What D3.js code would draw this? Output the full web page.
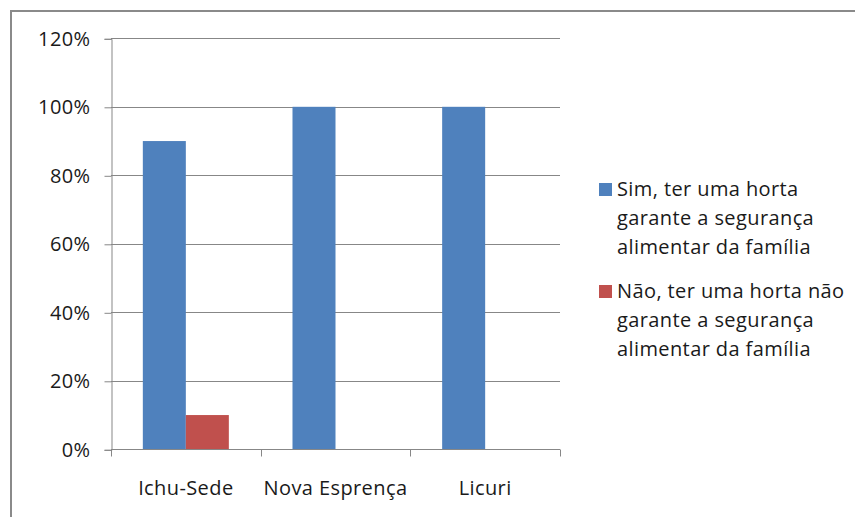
<!DOCTYPE html>
<html>
<head>
<meta charset="utf-8">
<script src="https://cdn.jsdelivr.net/npm/d3@7"></script>
<style>
  html, body { margin: 0; padding: 0; background: #fff; }
  svg { display: block; }
  text { font-family: "Open Sans", Lato, sans-serif; fill: #1a1a1a; letter-spacing: 0.4px; }
</style>
</head>
<body>
<svg id="chart" width="855" height="517"></svg>
<script>
// Localidades e respostas (proporção de famílias)
const categories = ["Ichu-Sede", "Nova Esprença", "Licuri"];
const seriesNames = [
  ["Sim, ter uma horta", "garante a segurança", "alimentar da família"],
  ["Não, ter uma horta não", "garante a segurança", "alimentar da família"]
];
const simValues = [0.90, 1.00, 1.00];
const naoValues = [0.10, 0, 0];
const yTicks = [0, 0.2, 0.4, 0.6, 0.8, 1.0, 1.2];
const colors = ["#4f81bd", "#c0504d"];

const FONT = "Open Sans";
const FS = 20;

const svg = d3.select("#chart");
const plot = { left: 111, right: 560, top: 38.3, bottom: 449.3 };

// moldura do gráfico
svg.append("rect")
  .attr("x", 11).attr("y", 11).attr("width", 900).attr("height", 600)
  .attr("fill", "none").attr("stroke", "#8a8a8a").attr("stroke-width", 2);

const x0 = d3.scaleBand().domain(categories).range([plot.left, plot.right]).padding(0);
const series = [0, 1];
const x1 = d3.scaleBand().domain(series).range([0, x0.bandwidth()])
  .paddingInner(0).paddingOuter(0.74);
const y = d3.scaleLinear().domain([0, 1.2]).range([plot.bottom, plot.top]);

// linhas de grade horizontais
svg.append("g").selectAll("line").data(yTicks.filter(d => d > 0)).join("line")
  .attr("x1", plot.left).attr("x2", plot.right)
  .attr("y1", d => Math.round(y(d)) + 0.5).attr("y2", d => Math.round(y(d)) + 0.5)
  .attr("stroke", "#878787").attr("stroke-width", 1);

// eixo Y
const yAxis = d3.axisLeft(y).tickValues(yTicks).tickSize(7).tickPadding(14)
  .tickFormat(d => Math.round(d * 100) + "%");
const gy = svg.append("g").attr("transform", `translate(${plot.left + 0.5},0.5)`).call(yAxis);
gy.select(".domain").attr("stroke", "#878787");
gy.selectAll(".tick line").attr("stroke", "#878787");
gy.selectAll(".tick text").attr("font-size", FS).attr("font-family", FONT).attr("fill", "#1a1a1a");

// barras
const data = categories.map((c, i) => ({ cat: c, vals: [simValues[i], naoValues[i]] }));
const groups = svg.append("g").selectAll("g").data(data).join("g")
  .attr("transform", d => `translate(${x0(d.cat)},0)`);
groups.selectAll("rect").data(d => d.vals.map((v, s) => ({ v, s }))).join("rect")
  .attr("x", d => x1(d.s)).attr("width", x1.bandwidth())
  .attr("y", d => y(d.v)).attr("height", d => y(0) - y(d.v))
  .attr("fill", d => colors[d.s]);

// eixo X
const gx = svg.append("g").attr("transform", `translate(0,${Math.round(plot.bottom) + 0.5})`);
gx.append("line").attr("x1", plot.left).attr("x2", plot.right)
  .attr("stroke", "#878787");
const bounds = categories.map(c => x0(c)).concat([plot.right]);
gx.selectAll("line.tk").data(bounds).join("line").attr("class", "tk")
  .attr("x1", d => Math.round(d) + 0.5).attr("x2", d => Math.round(d) + 0.5)
  .attr("y1", 0).attr("y2", 7).attr("stroke", "#878787");
gx.selectAll("text").data(categories).join("text")
  .attr("x", d => x0(d) + x0.bandwidth() / 2).attr("y", 45)
  .attr("text-anchor", "middle").attr("font-size", FS)
  .text(d => d);

// legenda
const legend = svg.append("g");
const entryY = [183, 285];
seriesNames.forEach((lines, s) => {
  const g = legend.append("g").attr("transform", `translate(599,${entryY[s]})`);
  g.append("rect").attr("width", 13).attr("height", 13).attr("fill", colors[s]);
  g.selectAll("text").data(lines).join("text")
    .attr("x", 18).attr("y", (d, i) => 13 + i * 29)
    .attr("font-size", FS).text(d => d);
});
</script>
</body>
</html>
